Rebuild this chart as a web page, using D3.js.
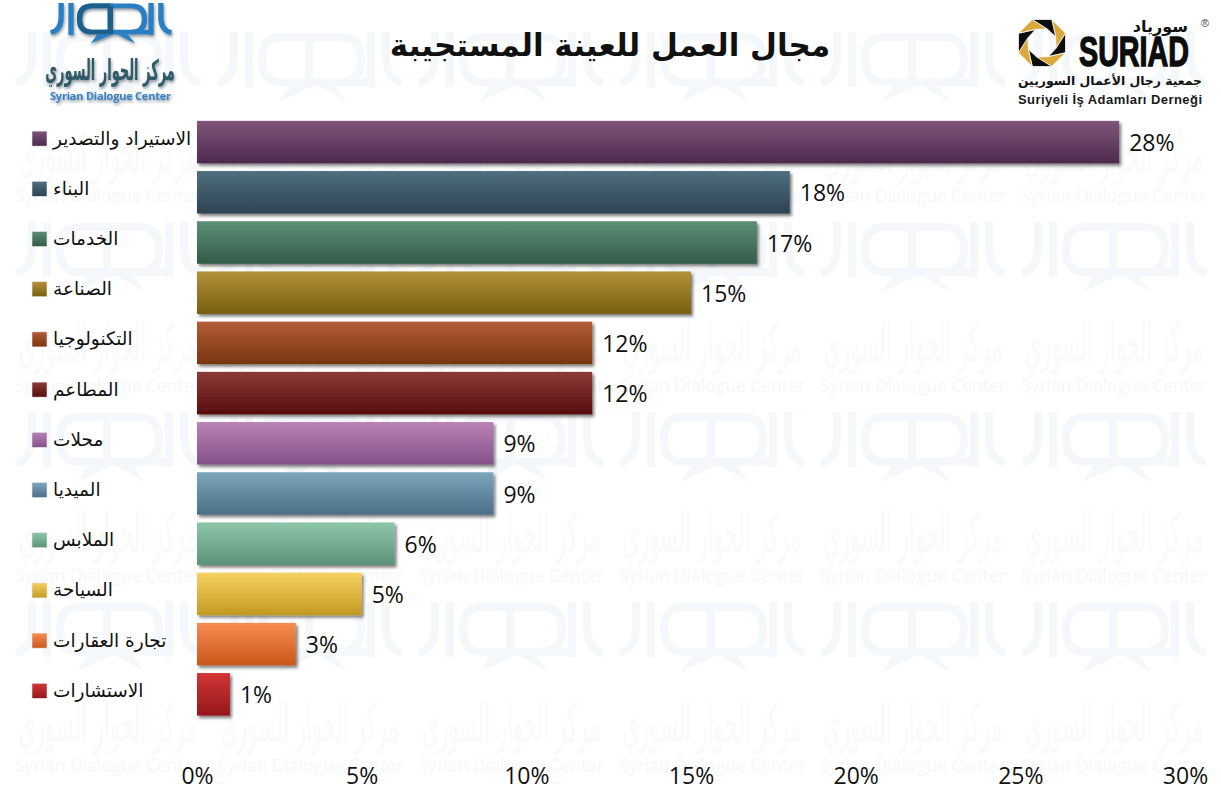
<!DOCTYPE html>
<html>
<head>
<meta charset="utf-8">
<script src="https://cdn.jsdelivr.net/npm/d3@7"></script>
<style>
  html, body { margin: 0; padding: 0; background: #fff; }
  svg { display: block; }
  .ar { font-family: "DejaVu Sans", sans-serif; }
  .num { font-family: "Open Sans", sans-serif; fill: #111; }
</style>
</head>
<body>
<script>
const width = 1221;
const height = 803;

// chart data
const sectors = ['الاستيراد والتصدير', 'البناء', 'الخدمات', 'الصناعة', 'التكنولوجيا', 'المطاعم',
    'محلات', 'الميديا', 'الملابس', 'السياحة', 'تجارة العقارات', 'الاستشارات'];
const shares = [28, 18, 17, 15, 12, 12, 9, 9, 6, 5, 3, 1];
const axis_ticks = [0, 5, 10, 15, 20, 25, 30];

// gradient ends for each bar
const tops = ['#80557a', '#50707f', '#5b8f76', '#b5913b', '#b25c38', '#8e3a38',
    '#bb82b6', '#7ca6bb', '#8ec6aa', '#f6d162', '#f78c52', '#d23636'];
const bottoms = ['#4d2a4e', '#2d4252', '#335b49', '#785f0e', '#78360f', '#570d0e',
    '#84528a', '#4a6f87', '#5b9378', '#c39a20', '#c8581a', '#94171a'];

const title = 'مجال العمل للعينة المستجيبة';
const watermark_columns = [15, 217, 418, 619, 820, 1021];
const watermark_rows = [32, 222, 412, 602];

const x = d3.scaleLinear().domain([0, 30]).range([197, 1185]);
const y = d3.scaleBand().domain(sectors).range([117, 719.4]).paddingInner(0.153).paddingOuter(0.0765);

const svg = d3.select('body').append('svg')
    .attr('width', width)
    .attr('height', height);

const defs = svg.append('defs');

// bar gradients
sectors.forEach((d, i) => {
    const grad = defs.append('linearGradient')
        .attr('id', `grad-${i}`)
        .attr('x1', 0).attr('x2', 0).attr('y1', 0).attr('y2', 1);
    grad.append('stop').attr('offset', '0%').attr('stop-color', tops[i]);
    grad.append('stop').attr('offset', '100%').attr('stop-color', bottoms[i]);
});

const shadow = defs.append('filter').attr('id', 'shadow')
    .attr('x', '-5%').attr('y', '-10%').attr('width', '115%').attr('height', '130%');
shadow.append('feDropShadow')
    .attr('dx', 2).attr('dy', 2.5).attr('stdDeviation', 1.6)
    .attr('flood-color', '#000').attr('flood-opacity', 0.5);

const soft = defs.append('filter').attr('id', 'soft')
    .attr('x', '-5%').attr('y', '-10%').attr('width', '115%').attr('height', '130%');
soft.append('feDropShadow')
    .attr('dx', 1).attr('dy', 2).attr('stdDeviation', 1.5)
    .attr('flood-color', '#33404d').attr('flood-opacity', 0.55);

// the speech-bubble logo, 186 wide, drawn once and reused
const logo = defs.append('g').attr('id', 'logo');
const logo_lines = logo.append('g')
    .attr('fill', 'none')
    .attr('stroke-width', 8)
    .attr('stroke', 'currentColor');
[
    'M17,0 V24 Q17,47 1,51',
    'M32,0 V55',
    'M96,5 H64 Q45,5 45,27 Q45,50 64,50 H156',
    'M92,5 V52',
    'M92,5 H124 Q144,5 144,27 Q144,50 124,50',
    'M154,0 V55',
    'M169,0 V24 Q169,47 185,51'
].forEach((d) => logo_lines.append('path').attr('d', d));
logo.append('path')
    .attr('d', 'M72,54 L62,70 L96,54 Z M102,54 L130,70 L118,54 Z')
    .attr('fill', 'currentColor');

// watermark tiles behind the chart
const watermark = svg.append('g').attr('class', 'watermark');
const tiles = d3.cross(watermark_columns, watermark_rows);

watermark.selectAll('use')
    .data(tiles)
    .enter()
    .append('use')
        .attr('href', '#logo')
        .attr('x', (d) => d[0])
        .attr('y', (d) => d[1])
        .style('color', '#f5f8fb');

// calligraphy is tall in the reference, so the text is stretched upward
watermark.selectAll('.wm-ar')
    .data(tiles)
    .enter()
    .append('text')
        .attr('class', 'ar wm-ar')
        .attr('transform', (d) => `translate(${d[0] + 93},${d[1] + 140}) scale(1,2.6)`)
        .attr('text-anchor', 'middle')
        .attr('font-size', 21)
        .attr('fill', '#f9fafb')
        .text('مركز الحوار السوري');

watermark.selectAll('.wm-en')
    .data(tiles)
    .enter()
    .append('text')
        .attr('class', 'wm-en')
        .attr('x', (d) => d[0])
        .attr('y', (d) => d[1] + 170)
        .attr('textLength', 186)
        .attr('font-family', '"Open Sans", sans-serif')
        .attr('font-size', 18)
        .attr('fill', '#f5f8fb')
        .text('Syrian Dialogue Center');

// bars
const bar_layer = svg.append('g').attr('class', 'bars');
bar_layer.selectAll('.bar')
    .data(shares)
    .enter()
    .append('rect')
        .attr('class', 'bar')
        .attr('x', x(0))
        .attr('y', (d, i) => y(sectors[i]))
        .attr('width', (d) => x(d) - x(0))
        .attr('height', y.bandwidth())
        .attr('fill', (d, i) => `url(#grad-${i})`)
        .attr('filter', 'url(#shadow)');

bar_layer.selectAll('.value')
    .data(shares)
    .enter()
    .append('text')
        .attr('class', 'num value')
        .attr('x', (d) => x(d) + 10)
        .attr('y', (d, i) => y(sectors[i]) + y.bandwidth() / 2 + 9)
        .attr('font-size', 23)
        .text((d) => d + '%');

// legend down the left side
const legend = svg.append('g').attr('class', 'legend');
const legend_row = legend.selectAll('g')
    .data(sectors)
    .enter()
    .append('g')
        .attr('transform', (d) => `translate(32,${y(d) + y.bandwidth() / 2 - 3.5})`);

legend_row.append('rect')
    .attr('y', -7.5)
    .attr('width', 15)
    .attr('height', 15)
    .attr('fill', (d, i) => `url(#grad-${i})`)
    .attr('stroke', '#e6e6e6')
    .attr('stroke-width', 0.6);

legend_row.append('text')
    .attr('class', 'ar')
    .attr('x', 21)
    .attr('y', 6)
    .attr('font-size', 18.5)
    .attr('fill', '#111')
    .text((d) => d);

// x axis
const axis = svg.append('g')
    .attr('class', 'axis')
    .attr('transform', 'translate(0,765)')
    .call(d3.axisBottom(x).tickValues(axis_ticks).tickSize(0).tickFormat((d) => d + '%'));
axis.select('.domain').remove();
axis.selectAll('text')
    .attr('class', 'num')
    .attr('font-size', 23)
    .attr('fill', '#111');

// title
svg.append('text')
    .attr('class', 'ar')
    .attr('x', 610)
    .attr('y', 56)
    .attr('text-anchor', 'middle')
    .attr('font-size', 31)
    .attr('font-weight', 'bold')
    .attr('fill', '#111')
    .text(title);

// Syrian Dialogue Center logo, top left
const sdc = svg.append('g').attr('filter', 'url(#soft)');
sdc.append('use')
    .attr('href', '#logo')
    .attr('transform', 'translate(50,3) scale(0.656,0.58)')
    .style('color', '#2b7fc3');
sdc.append('path')
    .attr('transform', 'translate(50,3) scale(0.656,0.58)')
    .attr('d', 'M92,5 H64 Q45,5 45,27 Q45,50 64,50 H92 V5')
    .attr('fill', 'none')
    .attr('stroke', '#1c5f8c')
    .attr('stroke-width', 8);
sdc.append('text')
    .attr('class', 'ar')
    .attr('transform', 'translate(110,80) scale(1,2.2)')
    .attr('text-anchor', 'middle')
    .attr('font-size', 13)
    .attr('font-weight', 'bold')
    .attr('fill', '#2f5a66')
    .text('مركز الحوار السوري');
sdc.append('text')
    .attr('x', 50)
    .attr('y', 100)
    .attr('textLength', 121)
    .attr('font-family', '"Open Sans", sans-serif')
    .attr('font-weight', 700)
    .attr('font-size', 11)
    .attr('fill', '#3a80c0')
    .text('Syrian Dialogue Center');

// SURIAD logo, top right
const suriad = svg.append('g');
const aperture = suriad.append('g').attr('transform', 'translate(1042,43)');
const blade_angle = Math.PI / 4;
const blade = d3.lineRadial().curve(d3.curveLinearClosed);
d3.range(8).forEach((i) => {
    const a = i * blade_angle + Math.PI / 8;
    aperture.append('path')
        .attr('d', blade([
            [a, 25.5],
            [a + blade_angle, 25.5],
            [a + blade_angle + 0.75, 15],
            [a + 0.75, 15]
        ]))
        .attr('fill', i % 2 ? '#0d0d0d' : '#d9a93c')
        .attr('stroke', '#fff')
        .attr('stroke-width', 0.8);
});

suriad.append('text')
    .attr('x', 1079)
    .attr('y', 66)
    .attr('textLength', 110)
    .attr('lengthAdjust', 'spacingAndGlyphs')
    .attr('font-family', '"Liberation Sans Narrow", sans-serif')
    .attr('font-weight', 700)
    .attr('font-size', 42)
    .attr('fill', '#0d0d0d')
    .attr('stroke', '#0d0d0d')
    .attr('stroke-width', 1.4)
    .text('SURIAD');
suriad.append('text')
    .attr('class', 'ar')
    .attr('x', 1188)
    .attr('y', 32)
    .attr('text-anchor', 'end')
    .attr('font-size', 16)
    .attr('font-weight', 'bold')
    .attr('fill', '#111')
    .text('سورياد');
suriad.append('text')
    .attr('x', 1205)
    .attr('y', 27)
    .attr('text-anchor', 'middle')
    .attr('font-family', '"Liberation Sans", sans-serif')
    .attr('font-size', 11)
    .attr('fill', '#444')
    .text('®');
suriad.append('text')
    .attr('class', 'ar')
    .attr('x', 1110)
    .attr('y', 85)
    .attr('text-anchor', 'middle')
    .attr('font-size', 12.4)
    .attr('font-weight', 'bold')
    .attr('fill', '#111')
    .text('جمعية رجال الأعمال السوريين');
suriad.append('text')
    .attr('x', 1018)
    .attr('y', 104)
    .attr('textLength', 184)
    .attr('font-family', '"Liberation Sans", sans-serif')
    .attr('font-weight', 700)
    .attr('font-size', 13)
    .attr('fill', '#1a1a1a')
    .text('Suriyeli İş Adamları Derneği');
</script>
</body>
</html>
